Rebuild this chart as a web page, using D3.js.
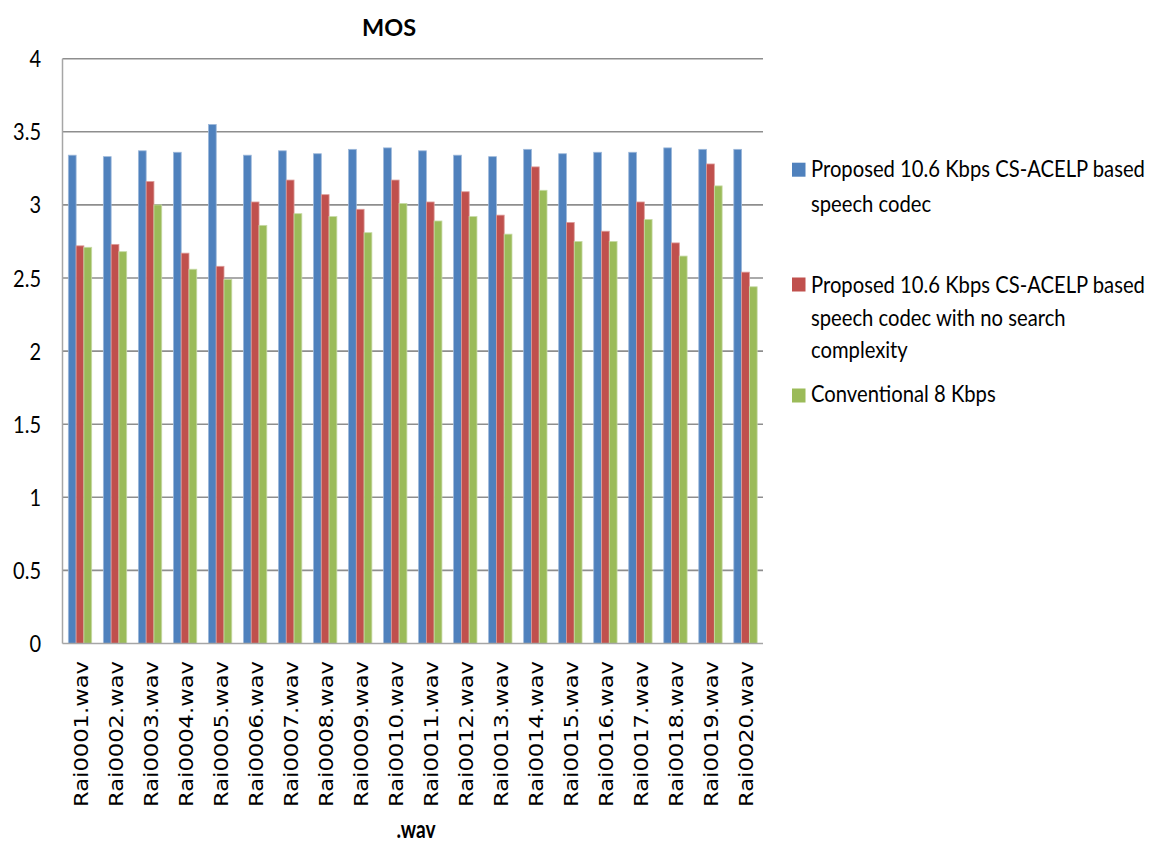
<!DOCTYPE html>
<html><head><meta charset="utf-8">
<script src="https://cdn.jsdelivr.net/npm/d3@7"></script>
<style>
html,body{margin:0;padding:0;background:#fff;}
svg{display:block;}
</style></head>
<body>
<svg id="chart" width="1153" height="843"></svg>
<script>
const categories = ["Rai0001.wav","Rai0002.wav","Rai0003.wav","Rai0004.wav","Rai0005.wav","Rai0006.wav","Rai0007.wav","Rai0008.wav","Rai0009.wav","Rai0010.wav","Rai0011.wav","Rai0012.wav","Rai0013.wav","Rai0014.wav","Rai0015.wav","Rai0016.wav","Rai0017.wav","Rai0018.wav","Rai0019.wav","Rai0020.wav"];
const proposed = [3.34,3.33,3.37,3.36,3.55,3.34,3.37,3.35,3.38,3.39,3.37,3.34,3.33,3.38,3.35,3.36,3.36,3.39,3.38,3.38];
const noSearch = [2.72,2.73,3.16,2.67,2.58,3.02,3.17,3.07,2.97,3.17,3.02,3.09,2.93,3.26,2.88,2.82,3.02,2.74,3.28,2.54];
const conventional = [2.71,2.68,3.00,2.56,2.49,2.86,2.94,2.92,2.81,3.01,2.89,2.92,2.80,3.10,2.75,2.75,2.90,2.65,3.13,2.44];
const seriesNames = ["Proposed 10.6 Kbps CS-ACELP based speech codec","Proposed 10.6 Kbps CS-ACELP based speech codec with no search complexity","Conventional 8 Kbps"];
const legendLines = [["Proposed 10.6 Kbps CS-ACELP based","speech codec"],["Proposed 10.6 Kbps CS-ACELP based","speech codec with no search","complexity"],["Conventional 8 Kbps"]];
const seriesColors = ["#4F81BD","#C0504D","#9BBB59"];
const seriesStroke = ["#9DB8DA","#DC9C9A","#C7DAA6"];
const yTicks = [0,0.5,1,1.5,2,2.5,3,3.5,4];
const yTickLabels = ["0","0.5","1","1.5","2","2.5","3","3.5","4"];
const chartTitle = "MOS";
const xTitle = ".wav";

const seriesValues = [proposed, noSearch, conventional];
const svg = d3.select("#chart");
const L = 62.5, R = 763, T = 58.7, B = 643.5;

const x0 = d3.scaleBand().domain(categories).range([L, R]).paddingInner(1/3).paddingOuter(1/6);
const x1 = d3.scaleBand().domain([0,1,2]).range([0, x0.bandwidth()]);
const y = d3.scaleLinear().domain([0,4]).range([B, T]);

// gridlines
svg.append("g").selectAll("line").data(yTicks.filter(d => d > 0)).join("line")
  .attr("x1", L).attr("x2", R).attr("y1", d => y(d)).attr("y2", d => y(d))
  .attr("stroke", "#8E8E8E").attr("stroke-width", 1.6);

// bars
const groups = svg.append("g").selectAll("g").data(categories).join("g")
  .attr("transform", d => `translate(${x0(d)},0)`);
groups.selectAll("rect").data((d,i) => seriesValues.map((s,k) => ({k, v: s[i]}))).join("rect")
  .attr("x", d => x1(d.k)).attr("width", x1.bandwidth())
  .attr("y", d => y(d.v)).attr("height", d => B - y(d.v))
  .attr("fill", d => seriesColors[d.k])
  .attr("stroke", d => seriesStroke[d.k]).attr("stroke-width", 0.8);

// axes lines
svg.append("line").attr("x1", L).attr("x2", L).attr("y1", T).attr("y2", B).attr("stroke", "#A6A6A6").attr("stroke-width", 1.5);
svg.append("line").attr("x1", L).attr("x2", R).attr("y1", B).attr("y2", B).attr("stroke", "#A6A6A6").attr("stroke-width", 1.5);

// y tick labels
const yFs = 20, ySy = 1.19;
svg.append("g").selectAll("text").data(yTicks).join("text")
  .attr("transform", (d) => `translate(41,${y(d) + 0.36*yFs*ySy}) scale(1,${ySy})`)
  .attr("text-anchor", "end")
  .attr("font-family", "Lato, sans-serif").attr("font-size", yFs).attr("fill", "#000")
  .text((d,i) => yTickLabels[i]);

// x tick labels
svg.append("g").selectAll("text").data(categories).join("text")
  .attr("transform", d => `translate(${x0(d) + x0.bandwidth()/2 + 7.5},661) rotate(-90)`)
  .attr("text-anchor", "end")
  .attr("font-family", "DejaVu Sans, sans-serif").attr("font-size", 19).attr("fill", "#000")
  .attr("textLength", 146).attr("lengthAdjust", "spacingAndGlyphs")
  .text(d => d);

// title
svg.append("text").attr("transform", "translate(389,36)")
  .attr("text-anchor", "middle").attr("font-family", "Lato, sans-serif").attr("font-weight", "bold")
  .attr("font-size", 23).attr("textLength", 54).attr("lengthAdjust", "spacingAndGlyphs")
  .text(chartTitle);

// x title
svg.append("text").attr("transform", "translate(416,838)")
  .attr("text-anchor", "middle").attr("font-family", "Lato, sans-serif").attr("font-weight", "bold")
  .attr("font-size", 24).attr("textLength", 39).attr("lengthAdjust", "spacingAndGlyphs")
  .text(xTitle);

// legend
const legY = [[177.3, 211.5],[293.3, 325.5, 358],[401.7]];
const sqY = [162.7, 277.5, 388.5];
const probe = svg.append("text").attr("font-family","Lato, sans-serif").attr("font-size",20).text(legendLines[0][0]);
const plen = probe.node().getComputedTextLength();
probe.remove();
const lfs = 20 * 334 / plen;
const lsy = 16.5 / (0.717 * lfs);
const leg = svg.append("g");
legendLines.forEach((lines, k) => {
  leg.append("rect").attr("x", 792).attr("y", sqY[k]).attr("width", 13.5).attr("height", 14)
    .attr("fill", seriesColors[k]);
  lines.forEach((t, j) => {
    leg.append("text").attr("transform", `translate(811,${legY[k][j]}) scale(1,${lsy})`)
      .attr("font-family", "Lato, sans-serif").attr("font-size", lfs).attr("fill", "#000")
      .text(t);
  });
});
</script>
</body></html>
